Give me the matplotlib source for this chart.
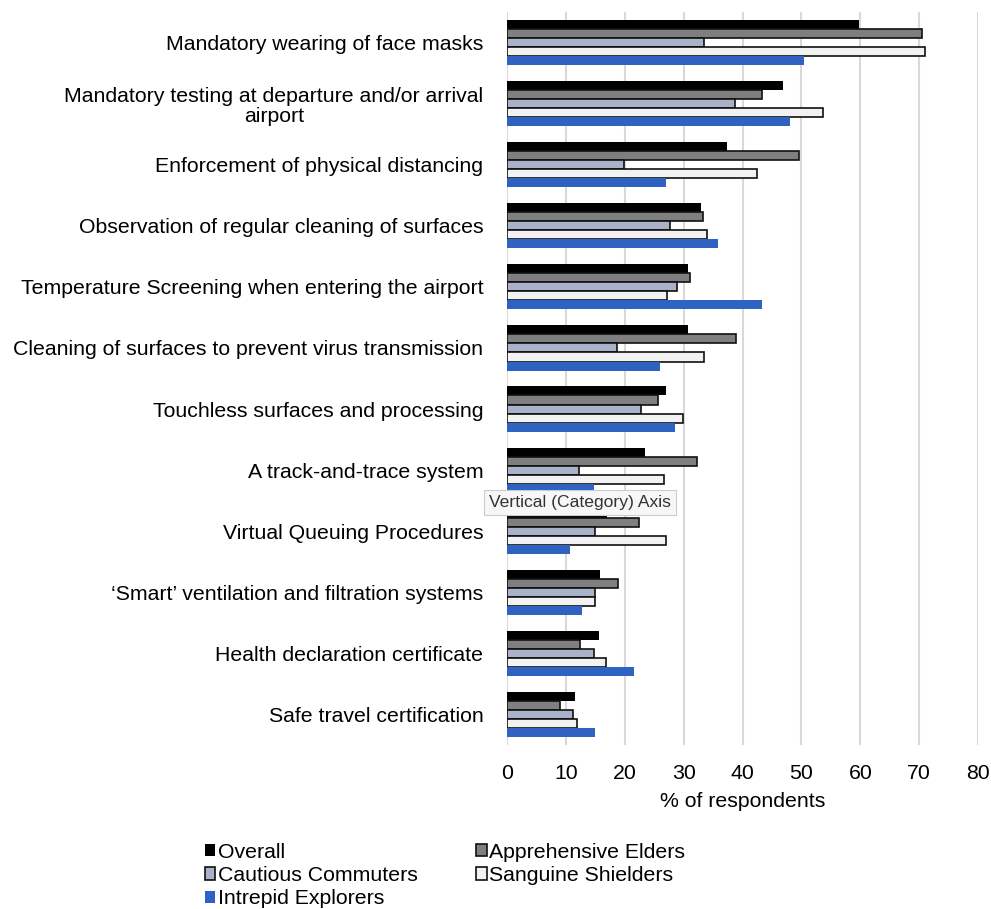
import matplotlib.pyplot as plt
import numpy as np

plt.rcParams['font.family'] = ['Liberation Sans', 'DejaVu Sans']

categories = [
    'Mandatory wearing of face masks',
    'Mandatory testing at departure and/or arrival\nairport',
    'Enforcement of physical distancing',
    'Observation of regular cleaning of surfaces',
    'Temperature Screening when entering the airport',
    'Cleaning of surfaces to prevent virus transmission',
    'Touchless surfaces and processing',
    'A track-and-trace system',
    'Virtual Queuing Procedures',
    '\u2018Smart\u2019 ventilation and filtration systems',
    'Health declaration certificate',
    'Safe travel certification',
]

overall = [59.7, 46.8, 37.4, 32.9, 30.8, 30.8, 27.0, 23.4, 17.0, 15.8, 15.6, 11.5]
apprehensive = [70.5, 43.3, 49.6, 33.3, 31.0, 38.9, 25.7, 32.3, 22.5, 18.8, 12.4, 9.0]
cautious = [33.5, 38.8, 19.8, 27.7, 28.9, 18.7, 22.8, 12.3, 15.0, 14.9, 14.7, 11.2]
sanguine = [71.0, 53.7, 42.5, 34.0, 27.1, 33.5, 29.9, 26.7, 27.0, 14.9, 16.8, 11.9]
intrepid = [50.4, 48.1, 27.0, 35.9, 43.3, 25.9, 28.5, 14.8, 10.7, 12.8, 21.5, 14.9]

series = [
    ('Overall', overall, '#000000', '#000000', 0.0),
    ('Apprehensive Elders', apprehensive, '#7f7f7f', '#111111', 1.2),
    ('Cautious Commuters', cautious, '#a9b2c8', '#111111', 1.2),
    ('Sanguine Shielders', sanguine, '#f2f2f2', '#111111', 1.2),
    ('Intrepid Explorers', intrepid, '#2f63c1', '#2f63c1', 0.0),
]

fs = 15.3

fig = plt.figure(figsize=(9.91, 9.09), dpi=100)
ax = fig.add_axes([0.5116, 0.1804, 0.4754, 0.8064])

y = np.arange(len(categories))
h = 0.148
bars = {}
for i, (name, vals, fc, ec, lw) in enumerate(series):
    off = (i - 2) * h
    bars[name] = ax.barh(y + off, vals, height=h, color=fc, edgecolor=ec,
                         linewidth=lw, label=name, zorder=3)

ax.set_xlim(0, 80)
ax.set_ylim(len(categories) - 0.5, -0.5)
ax.set_xticks(range(0, 81, 10))
ax.set_yticks(y)
ax.set_yticklabels(categories, fontsize=fs, linespacing=1.12)
for lab in ax.get_yticklabels():
    lab.set_multialignment('center')
ax.tick_params(axis='x', labelsize=fs, length=0, pad=14)
ax.tick_params(axis='y', length=0, pad=17)
ax.xaxis.grid(True, color='#d9d9d9', linewidth=1.5, zorder=0)
for s in ax.spines.values():
    s.set_visible(False)
ax.set_xlabel('% of respondents', fontsize=fs, labelpad=6)

order = ['Overall', 'Cautious Commuters', 'Intrepid Explorers',
         'Apprehensive Elders', 'Sanguine Shielders']
fig.legend([bars[n] for n in order], order, ncol=2, loc='upper left',
           bbox_to_anchor=(0.196, 0.0845), frameon=False, fontsize=fs,
           handlelength=0.5, handleheight=0.5, handletextpad=0.1,
           columnspacing=2.75, labelspacing=0.2, borderpad=0)

ax.text(0.4935, 0.4473, 'Vertical (Category) Axis', transform=fig.transFigure,
        fontsize=12.6, color='#333333', va='center', ha='left',
        bbox=dict(boxstyle='square,pad=0.3', fc='#f7f7f7', ec='#cccccc', lw=0.8),
        zorder=10)

fig.savefig('out.png', dpi=100)
